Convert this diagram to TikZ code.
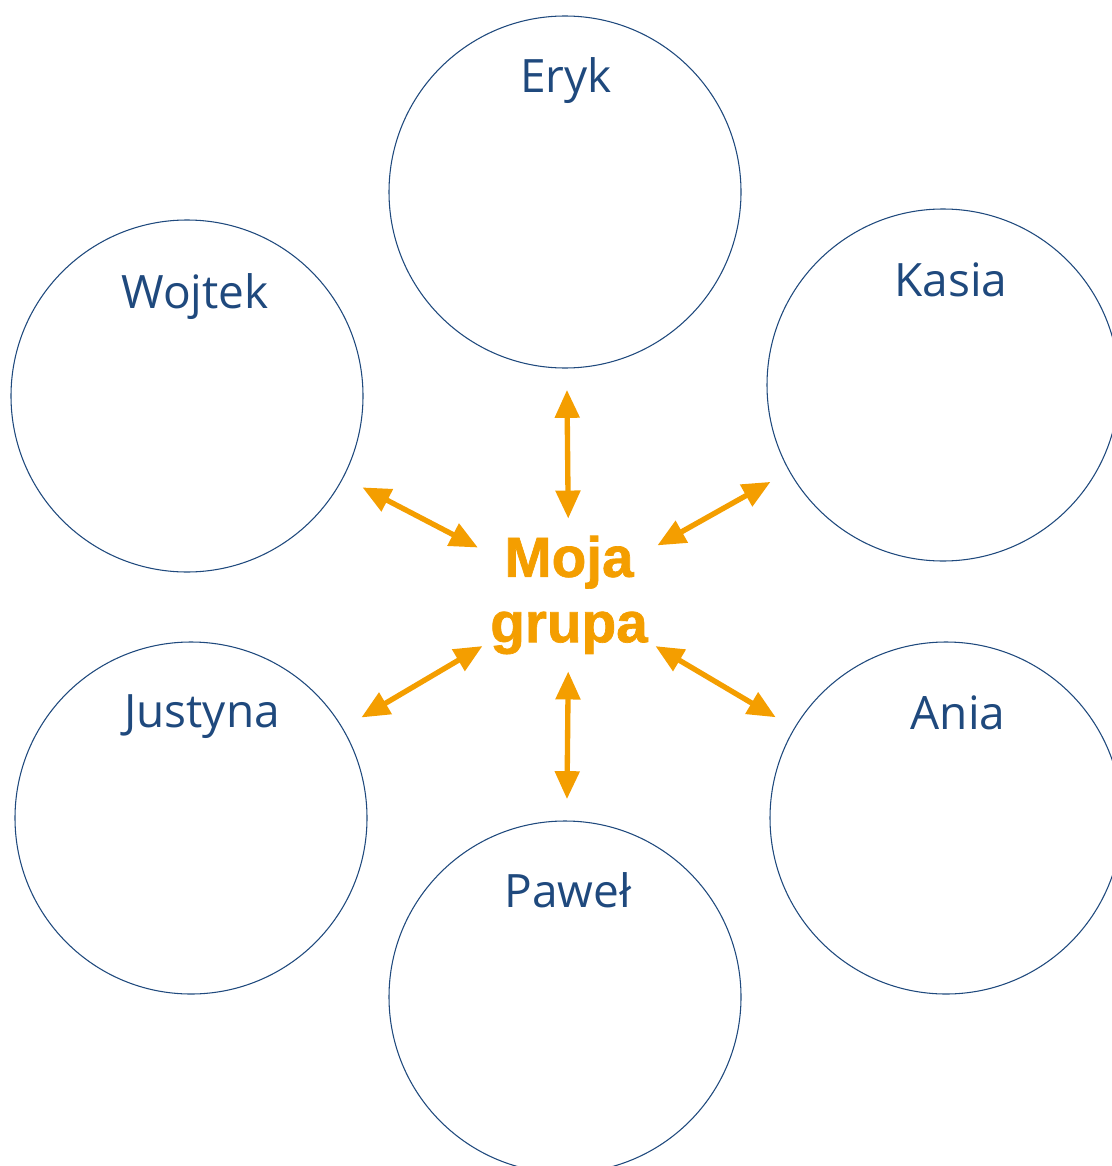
\documentclass[tikz,border=0pt]{standalone}
\usepackage{fontspec}
\setmainfont{Open Sans}
\newfontfamily\groupfont[FakeBold=1.2]{Liberation Sans Bold}
\usetikzlibrary{arrows.meta, positioning, shapes.geometric}
\definecolor{peopleblue}{RGB}{31,73,125}
\definecolor{grouporange}{RGB}{244,158,0}
\tikzset{
    person/.style={circle, draw=peopleblue, line width=0.8pt, minimum size=264pt, inner sep=0pt},
    personname/.style={anchor=base, text=peopleblue, font=\fontsize{34.5}{40}\selectfont},
    link/.style={grouporange, line width=4pt, shorten >=16pt,
        {Triangle[length=21pt, width=18pt]}-{Triangle[length=21pt, width=18pt]}},
}

\begin{document}
\begin{tikzpicture}[x=0.75pt, y=-0.75pt]
    \useasboundingbox (0,0) rectangle (1111,1166);

    \node[ellipse, minimum width=174pt, inner sep=-4pt, align=center,
          text=grouporange, font=\groupfont\fontsize{42.5}{49}\selectfont] (me) at (569,595) {Moja\\grupa};

    \node[person] (eryk) at (565,192) {};
    \node[person] (kasia) at (943,385) {};
    \node[person] (wojtek) at (187,396) {};
    \node[person] (justyna) at (191,818) {};
    \node[person] (ania) at (946,818) {};
    \node[person] (pawel) at (565,997) {};

    \node[personname] (erykname) at (566,93) {Eryk};
    \node[personname] (kasianame) at (951,296) {Kasia};
    \node[personname] (wojtekname) at (195,308) {Wojtek};
    \node[personname] (justynaname) at (202,727) {Justyna};
    \node[personname] (anianame) at (958,729) {Ania};
    \node[personname] (pawelname) at (568,907) {Paweł};

    % arrows out of the middle
    \foreach \who in {eryk, kasia, wojtek, justyna, ania, pawel}
        \draw[link] (me) -- (\who);
\end{tikzpicture}
\end{document}
